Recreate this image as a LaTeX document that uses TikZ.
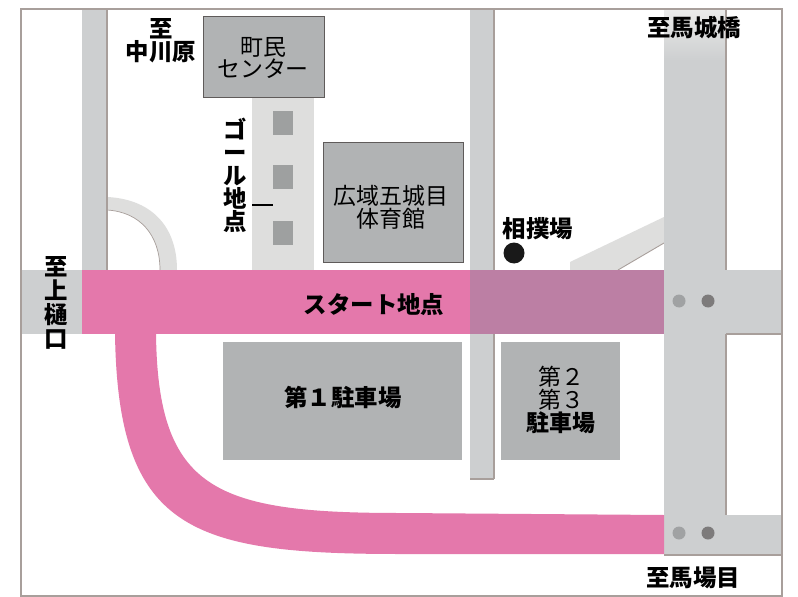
\documentclass[tikz,border=0pt]{standalone}
\usepackage{fontspec}
\setmainfont{Noto Sans CJK JP}
\definecolor{roadg}{HTML}{CDCFD0}
\definecolor{roadl}{HTML}{DEDEDD}
\definecolor{bldg}{HTML}{B1B3B4}
\definecolor{edgeb}{HTML}{A89F9B}
\definecolor{darkedge}{HTML}{5F5B5A}
\definecolor{pinkroad}{HTML}{E478AB}
\definecolor{mauve}{HTML}{BC7FA4}
\definecolor{sq}{HTML}{9EA0A0}
\tikzset{
  x=1bp,y=-1bp,
  road/.style={fill=roadg,draw=none},
  roadedge/.style={draw=edgeb,line width=1.2pt},
  bld/.style={fill=bldg,draw=none,anchor=north west},
  bldline/.style={fill=bldg,draw=darkedge,line width=1.4pt,anchor=north west},
  lab/.style={font=\fontsize{23}{23}\selectfont,align=center,text=black,inner sep=0pt},
  labb/.style={font=\fontsize{23.5}{23}\bfseries\selectfont,align=center,text=black,inner sep=0pt},
  sqs/.style={fill=sq,draw=none}
}
\begin{document}
\begin{tikzpicture}
\useasboundingbox (0,0) rectangle (798,597);
\fill[white] (0,0) rectangle (798,597);
% side roads
\fill[roadl] (252,97) rectangle (314,270);
\fill[sqs] (273,111) rectangle (293,135);
\fill[sqs] (273,165) rectangle (293,189);
\fill[sqs] (273,221) rectangle (293,245);
\draw[black,line width=1.6pt] (252,205) -- (273,205);
\fill[roadl] (107,197) .. controls (150,199) and (177,225) .. (177,270) -- (160,270) .. controls (160,235) and (140,212) .. (107,210) -- cycle;
\draw[edgeb,line width=.7pt] (107,210) .. controls (140,212) and (160,235) .. (160,270);
\fill[roadl] (570,270) -- (570,262) -- (664,217) -- (664,243) -- (618,270) -- cycle;
\draw[edgeb,line width=.9pt] (618,270) -- (664,243);
\fill[road] (82,9) rectangle (107,270);
\draw[roadedge] (107,9) -- (107,270);
\fill[road] (470,9) rectangle (494,478);
\draw[roadedge] (494,9) -- (494,270);
\draw[roadedge] (494,334) -- (494,479);
\draw[roadedge] (470,479) -- (494,479);
\fill[road] (21,270) rectangle (782,334);
\fill[road] (664,515) rectangle (782,554);
\fill[road] (664,9) rectangle (726,555);
\shade[top color=roadl!60!white,bottom color=roadg] (664,9) rectangle (726,60);
\draw[roadedge] (726,9) -- (726,270);
\draw[roadedge] (726,334) -- (726,515);
\draw[roadedge] (664,555) -- (782,555);
\draw[roadedge] (726,334) -- (782,334);
% pink route
\fill[pinkroad] (82,270) rectangle (470,334);
\fill[mauve] (470,270) rectangle (664,334);
\fill[pinkroad] (115,330) -- (115,334) .. controls (118,530) and (190,554) .. (400,554)
  -- (664,554) -- (664,515) -- (400,513)
  .. controls (215,513) and (158,490) .. (156,334) -- (156,330) -- cycle;
% junction dots
\foreach \x/\c in {679/A0A2A3,708/7D7B7B}{
  \definecolor{dotc}{HTML}{\c}
  \fill[dotc] (\x,301) circle (6.5);
  \fill[dotc] (\x,533) circle (6.5);
}
% frame
\draw[edgeb,line width=1.6pt] (21,9) rectangle (782,596);
% buildings
\node[bldline,minimum width=121bp,minimum height=81bp] (centre) at (203,16) {};
\node[lab] (centrelab) at (263,58) {町民\\センター};
\node[bldline,minimum width=140bp,minimum height=120bp] (gym) at (323,142) {};
\node[lab] (gymlab) at (391,207) {広域五城目\\体育館};
\node[bld,minimum width=239bp,minimum height=118bp] (p1) at (223,342) {};
\node[labb] (p1lab) at (343,398) {第１駐車場};
\node[bld,minimum width=119bp,minimum height=118bp] (p2) at (501,342) {};
\node[lab] (p2lab) at (561,400) {\fontsize{23}{24}\selectfont 第２\\第３\\\textbf{駐車場}};
% labels
\node[labb] (start) at (374,305) {スタート地点};
\node[labb] (naka) at (161,41) {至\\中川原};
\node[labb] (goal) at (235,175) {ゴ\\ー\\ル\\地\\点};
\node[labb] (sumo) at (538,229) {相撲場};
\fill[black!90] (514,253) circle (10.5);
\node[labb,font=\fontsize{23.5}{24}\bfseries\selectfont] (kami) at (56,303) {至\\上\\樋\\口};
\node[labb] (maki) at (694,28) {至馬城橋};
\node[labb] (baba) at (693,578) {至馬場目};
\end{tikzpicture}
\end{document}
